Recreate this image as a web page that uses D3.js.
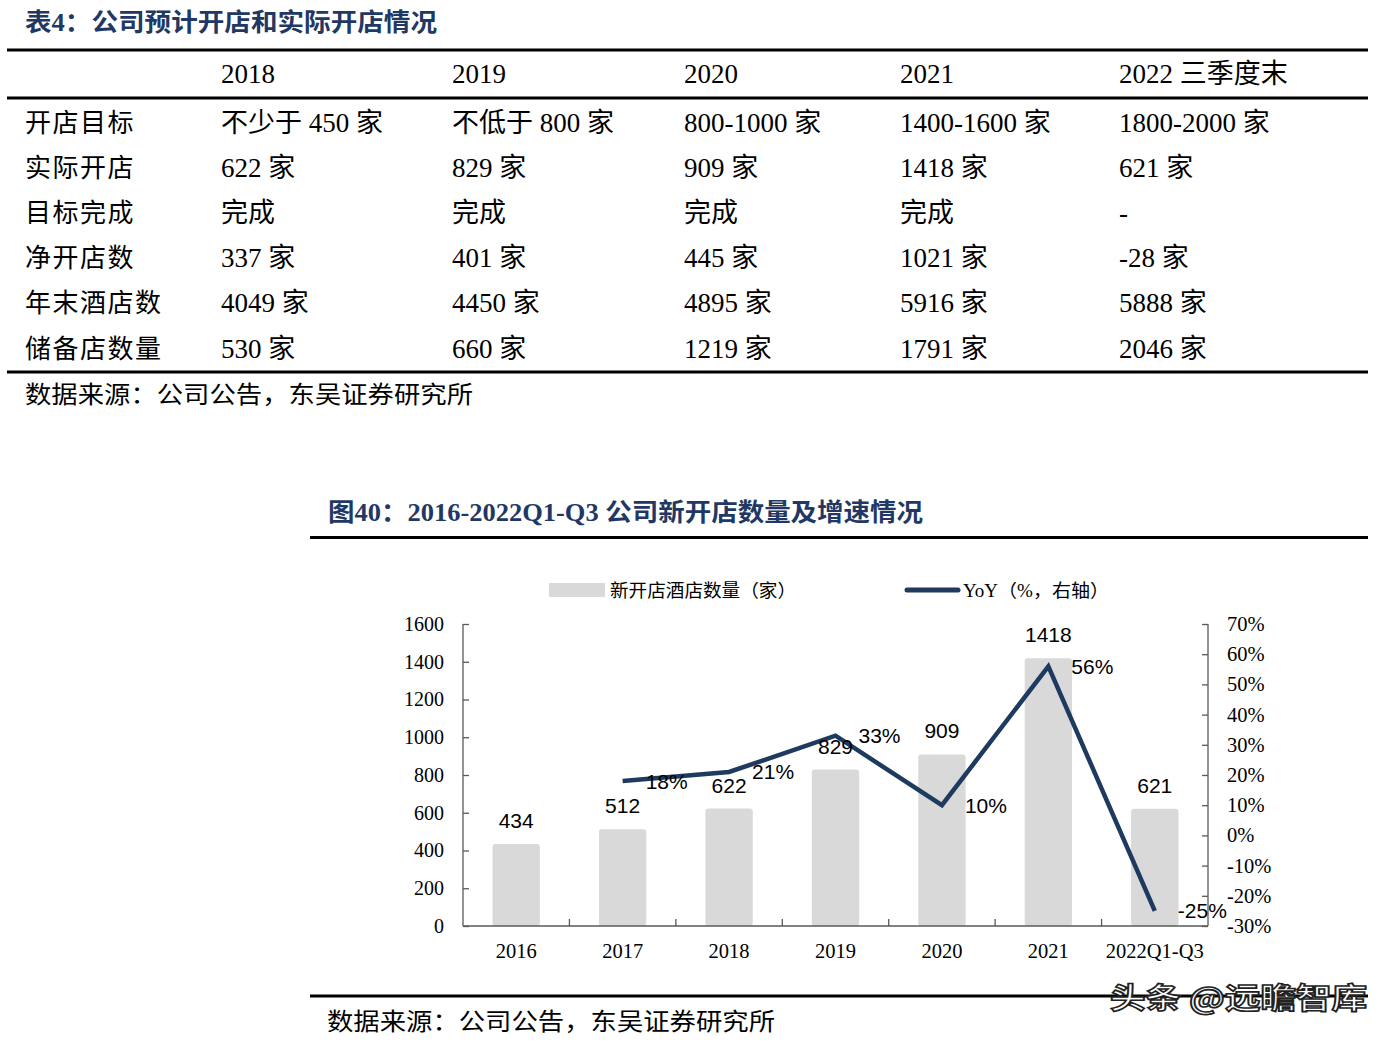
<!DOCTYPE html>
<html><head><meta charset="utf-8">
<script src="https://cdn.jsdelivr.net/npm/d3@7"></script>
<style>
html,body{margin:0;padding:0;background:#fff;}
svg{display:block;}
</style></head>
<body>
<svg id="c" width="1398" height="1046"></svg>
<script>
// ---------- table data ----------
const tableTitle = "表4：公司预计开店和实际开店情况";
const tableYears = ["2018", "2019", "2020", "2021", "2022 三季度末"];
const rowLabels = ["开店目标", "实际开店", "目标完成", "净开店数", "年末酒店数", "储备店数量"];
const openTarget = ["不少于 450 家", "不低于 800 家", "800-1000 家", "1400-1600 家", "1800-2000 家"];
const actualOpened = ["622 家", "829 家", "909 家", "1418 家", "621 家"];
const targetMet = ["完成", "完成", "完成", "完成", "-"];
const netOpened = ["337 家", "401 家", "445 家", "1021 家", "-28 家"];
const yearEndHotels = ["4049 家", "4450 家", "4895 家", "5916 家", "5888 家"];
const pipelineHotels = ["530 家", "660 家", "1219 家", "1791 家", "2046 家"];
const sourceText = "数据来源：公司公告，东吴证券研究所";

// ---------- chart data ----------
const chartTitle = "图40：2016-2022Q1-Q3 公司新开店数量及增速情况";
const categories = ["2016", "2017", "2018", "2019", "2020", "2021", "2022Q1-Q3"];
const newHotels = [434, 512, 622, 829, 909, 1418, 621];
const yoyPct = [null, 18, 21, 33, 10, 56, -25];
const leftTicks = [0, 200, 400, 600, 800, 1000, 1200, 1400, 1600];
const rightTicks = [-30, -20, -10, 0, 10, 20, 30, 40, 50, 60, 70];
const legendLabels = ["新开店酒店数量（家）", "YoY（%，右轴）"];

(function () {
const svg = d3.select("#c");
const SERIF = "'Liberation Serif','Noto Sans CJK SC',serif";
const SANS = "'Liberation Sans',Arial,sans-serif";
const NAVY = "#1f3864";

// ================= TABLE =================
svg.append("text").attr("x", 25).attr("y", 31)
  .attr("font-family", SERIF).attr("font-weight", "bold").attr("font-size", 25)
  .attr("fill", NAVY).attr("textLength", 412).attr("lengthAdjust", "spacingAndGlyphs")
  .text(tableTitle);

[50, 98, 372].forEach(y => {
  svg.append("line").attr("x1", 7).attr("x2", 1368).attr("y1", y).attr("y2", y)
    .attr("stroke", "#000").attr("stroke-width", 3);
});

const colX = [221, 452, 684, 900, 1119];
const rows = [openTarget, actualOpened, targetMet, netOpened, yearEndHotels, pipelineHotels];
const rowBase = [132, 177, 222, 267, 312, 358];

svg.append("g").selectAll("text").data(tableYears).join("text")
  .attr("x", (d, i) => colX[i]).attr("y", 83)
  .attr("font-family", SERIF).attr("font-size", 27).attr("fill", "#000")
  .text(d => d);

rowLabels.forEach((lab, r) => {
  svg.append("text").attr("x", 25).attr("y", rowBase[r])
    .attr("font-family", SERIF).attr("font-size", 26).attr("fill", "#000")
    .attr("letter-spacing", 1.5).text(lab);
  svg.append("g").selectAll("text").data(rows[r]).join("text")
    .attr("x", (d, i) => colX[i]).attr("y", rowBase[r])
    .attr("font-family", SERIF).attr("font-size", 27).attr("fill", "#000")
    .text(d => d);
});

svg.append("text").attr("x", 25).attr("y", 403)
  .attr("font-family", SERIF).attr("font-size", 24).attr("fill", "#000")
  .attr("textLength", 448).attr("lengthAdjust", "spacingAndGlyphs")
  .text(sourceText);

// ================= CHART =================
svg.append("text").attr("x", 328).attr("y", 521)
  .attr("font-family", SERIF).attr("font-weight", "bold").attr("font-size", 25)
  .attr("fill", NAVY).attr("textLength", 595).attr("lengthAdjust", "spacingAndGlyphs")
  .text(chartTitle);
svg.append("line").attr("x1", 310).attr("x2", 1368).attr("y1", 537.5).attr("y2", 537.5)
  .attr("stroke", "#000").attr("stroke-width", 3);
svg.append("line").attr("x1", 310).attr("x2", 1368).attr("y1", 996).attr("y2", 996)
  .attr("stroke", "#000").attr("stroke-width", 3);
svg.append("text").attr("x", 327).attr("y", 1030)
  .attr("font-family", SERIF).attr("font-size", 24).attr("fill", "#000")
  .attr("textLength", 448).attr("lengthAdjust", "spacingAndGlyphs")
  .text(sourceText);

const pL = 463, pR = 1208, pT = 624, pB = 926;
const x = d3.scaleBand().domain(categories).range([pL, pR]).padding(0);
const yL = d3.scaleLinear().domain([0, 1600]).range([pB, pT]);
const yR = d3.scaleLinear().domain([-30, 70]).range([pB, pT]);
const barW = x.bandwidth() * 0.445;
const AXC = "#595959";

// bars
svg.append("g").selectAll("rect").data(newHotels).join("rect")
  .attr("x", (d, i) => x(categories[i]) + x.bandwidth() / 2 - barW / 2)
  .attr("y", d => yL(d)).attr("width", barW).attr("height", d => pB - yL(d))
  .attr("rx", 3).attr("fill", "#d9d9d9");

// left axis
const gL = svg.append("g").attr("transform", `translate(${pL},0)`)
  .call(d3.axisLeft(yL).tickValues(leftTicks).tickSize(-6).tickPadding(19).tickFormat(d3.format("d")));
gL.select(".domain").attr("stroke", AXC).attr("stroke-width", 1.3).attr("d", `M0,${pT}V${pB}`);
gL.selectAll(".tick line").attr("stroke", AXC).attr("stroke-width", 1.3);
gL.selectAll("text").attr("font-family", SERIF).attr("font-size", 20).attr("fill", "#000");

// right axis
const gR = svg.append("g").attr("transform", `translate(${pR},0)`)
  .call(d3.axisRight(yR).tickValues(rightTicks).tickSize(-6).tickPadding(19).tickFormat(d => d + "%"));
gR.select(".domain").attr("stroke", AXC).attr("stroke-width", 1.3).attr("d", `M0,${pT}V${pB}`);
gR.selectAll(".tick line").attr("stroke", AXC).attr("stroke-width", 1.3);
gR.selectAll("text").attr("font-family", SERIF).attr("font-size", 20.5).attr("fill", "#000");

// bottom axis
const gB = svg.append("g").attr("transform", `translate(0,${pB})`)
  .call(d3.axisBottom(x).tickSize(0).tickPadding(17));
gB.select(".domain").attr("stroke", AXC).attr("stroke-width", 1.5).attr("d", `M${pL},0H${pR}`);
gB.selectAll("text").attr("font-family", SERIF).attr("font-size", 20.5).attr("fill", "#000");
svg.append("g").selectAll("line").data(categories.slice(1)).join("line")
  .attr("x1", d => x(d)).attr("x2", d => x(d)).attr("y1", pB).attr("y2", pB - 7)
  .attr("stroke", AXC).attr("stroke-width", 1.3);

// YoY line
const linePts = categories.map((c, i) => ({c, v: yoyPct[i]})).filter(d => d.v !== null);
const line = d3.line().x(d => x(d.c) + x.bandwidth() / 2).y(d => yR(d.v));
svg.append("path").datum(linePts).attr("d", line)
  .attr("fill", "none").attr("stroke", "#1f3a5f").attr("stroke-width", 4.5)
  .attr("stroke-linejoin", "miter");

// bar labels
svg.append("g").selectAll("text").data(newHotels).join("text")
  .attr("x", (d, i) => x(categories[i]) + x.bandwidth() / 2)
  .attr("y", d => yL(d) - 16).attr("text-anchor", "middle")
  .attr("font-family", SANS).attr("font-size", 21).attr("fill", "#000")
  .text(d => d);

// yoy labels
svg.append("g").selectAll("text").data(linePts).join("text")
  .attr("x", d => x(d.c) + x.bandwidth() / 2 + 23)
  .attr("y", d => yR(d.v) + 7.5)
  .attr("font-family", SANS).attr("font-size", 21).attr("fill", "#000")
  .text(d => d.v + "%");

// legend
svg.append("rect").attr("x", 549).attr("y", 583).attr("width", 56).attr("height", 14).attr("fill", "#d9d9d9");
svg.append("text").attr("x", 610).attr("y", 597)
  .attr("font-family", SERIF).attr("font-size", 18).attr("fill", "#000")
  .attr("textLength", 186).attr("lengthAdjust", "spacingAndGlyphs").text(legendLabels[0]);
svg.append("line").attr("x1", 907).attr("x2", 958).attr("y1", 590).attr("y2", 590)
  .attr("stroke", "#1f3a5f").attr("stroke-width", 5).attr("stroke-linecap", "round");
svg.append("text").attr("x", 963).attr("y", 597)
  .attr("font-family", SERIF).attr("font-size", 18).attr("fill", "#000")
  .attr("textLength", 146).attr("lengthAdjust", "spacingAndGlyphs").text(legendLabels[1]);

// watermark
svg.append("text").attr("x", 1110).attr("y", 1009)
  .attr("font-family", "'Noto Sans CJK SC',sans-serif").attr("font-weight", "bold").attr("font-size", 29)
  .attr("fill", "#fff").attr("stroke", "#222").attr("stroke-width", 1.6)
  .attr("textLength", 257).attr("lengthAdjust", "spacingAndGlyphs")
  .text("头条 @远瞻智库");
})();
</script>
</body></html>
